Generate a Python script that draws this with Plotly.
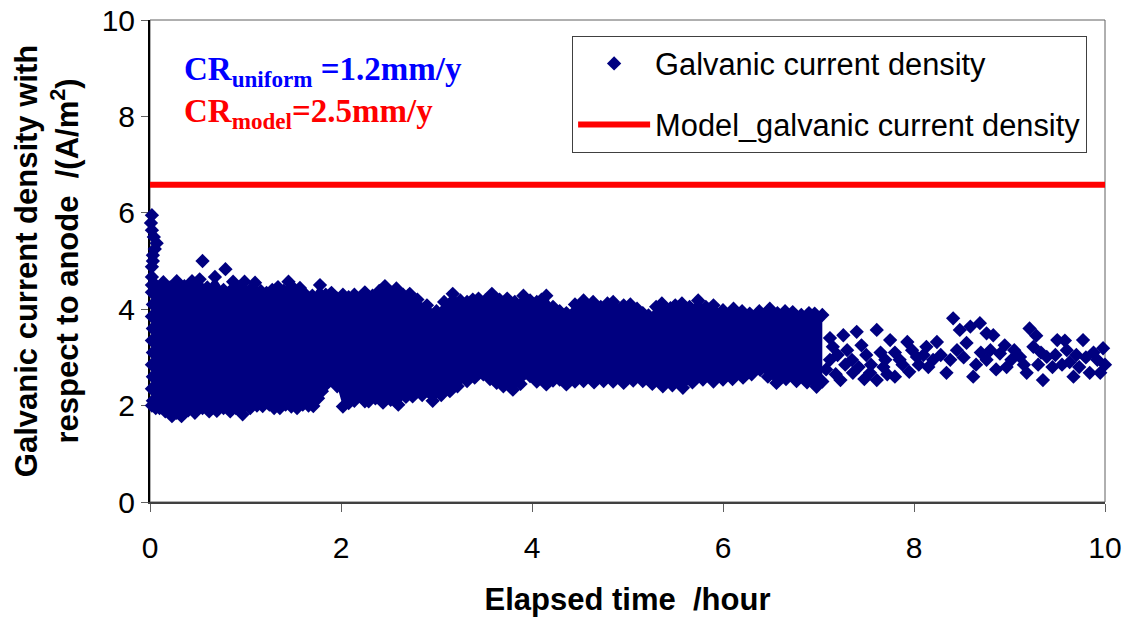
import plotly.graph_objects as go

# ---------------- data ----------------
# model galvanic current density (A/m2)
model_time = [0, 10]
model_current = [6.58, 6.58]

# early spike of measured galvanic current density
spike_time = [0.02, 0.01, 0.02, 0.04, 0.07, 0.03, 0.02, 0.03, 0.02, 0.05]
spike_current = [5.95, 5.79, 5.64, 5.50, 5.37, 5.12, 4.88, 5.00, 4.67, 5.25]

# isolated high readings
outlier_time = [0.55, 0.79]
outlier_current = [5.00, 4.83]

# upper edge of the dense measurement band (0 - 7 h)
top_time = [0.02, 0.06, 0.14, 0.21, 0.28, 0.36, 0.44, 0.52, 0.60, 0.68,
            0.77, 0.87, 0.93, 0.99, 1.05, 1.10, 1.16, 1.22, 1.28, 1.34,
            1.40, 1.45, 1.51, 1.57, 1.63, 1.70, 1.78, 1.84, 1.90, 1.96,
            2.02, 2.08, 2.14, 2.20, 2.25, 2.33, 2.40, 2.46, 2.52, 2.58,
            2.65, 2.72, 2.80, 2.90, 3.00, 3.08, 3.17, 3.25, 3.32, 3.38,
            3.44, 3.51, 3.58, 3.66, 3.74, 3.82, 3.91, 3.98, 4.05, 4.10,
            4.15, 4.22, 4.29, 4.36, 4.45, 4.54, 4.64, 4.72, 4.79, 4.85,
            4.96, 5.03, 5.10, 5.16, 5.22, 5.30, 5.36, 5.45, 5.50, 5.57,
            5.65, 5.74, 5.82, 5.90, 6.00, 6.11, 6.20, 6.28, 6.38, 6.49,
            6.57, 6.65, 6.73, 6.82, 6.90, 6.96, 7.04]
top_current = [4.50, 4.50, 4.56, 4.45, 4.58, 4.48, 4.58, 4.62, 4.45, 4.67,
               4.40, 4.57, 4.45, 4.57, 4.40, 4.55, 4.38, 4.34, 4.40, 4.46,
               4.38, 4.57, 4.42, 4.44, 4.30, 4.28, 4.50, 4.30, 4.34, 4.22,
               4.30, 4.25, 4.30, 4.22, 4.35, 4.28, 4.38, 4.48, 4.35, 4.43,
               4.30, 4.32, 4.20, 4.08, 3.96, 4.15, 4.32, 4.18, 4.15, 4.20,
               4.22, 4.18, 4.32, 4.20, 4.22, 4.15, 4.28, 4.18, 4.15, 4.20,
               4.28, 4.05, 3.96, 3.92, 4.10, 4.18, 4.15, 4.05, 4.12, 4.15,
               4.08, 4.10, 4.01, 3.92, 3.87, 4.05, 4.12, 4.02, 4.08, 4.12,
               4.05, 4.18, 4.05, 4.08, 3.98, 4.01, 3.96, 3.91, 3.96, 4.01,
               3.92, 3.96, 3.94, 3.88, 3.92, 3.91, 3.88]

# lower edge of the dense measurement band (0 - 7 h)
bottom_time = [0.02, 0.06, 0.10, 0.16, 0.23, 0.28, 0.33, 0.40, 0.47, 0.55,
               0.62, 0.70, 0.77, 0.84, 0.90, 0.97, 1.05, 1.12, 1.18, 1.25,
               1.30, 1.36, 1.42, 1.48, 1.54, 1.60, 1.66, 1.71, 1.76, 1.80,
               1.85, 1.90, 1.96, 2.02, 2.08, 2.14, 2.20, 2.25, 2.29, 2.36,
               2.44, 2.52, 2.60, 2.68, 2.75, 2.85, 2.96, 3.05, 3.14, 3.22,
               3.32, 3.40, 3.49, 3.56, 3.63, 3.70, 3.80, 3.88, 3.98, 4.05,
               4.15, 4.22, 4.29, 4.36, 4.45, 4.54, 4.65, 4.75, 4.85, 4.96,
               5.06, 5.16, 5.26, 5.37, 5.47, 5.58, 5.68, 5.79, 5.90, 6.00,
               6.10, 6.21, 6.30, 6.39, 6.47, 6.56, 6.66, 6.77, 6.88, 6.99,
               7.04]
bottom_current = [2.00, 1.95, 1.95, 1.88, 1.78, 1.85, 1.78, 1.90, 1.85, 1.95,
                  1.88, 1.89, 1.95, 1.88, 1.95, 1.82, 1.95, 2.00, 1.99, 2.02,
                  1.95, 1.95, 2.02, 1.98, 1.95, 2.02, 2.00, 1.99, 2.15, 2.30,
                  2.45, 2.54, 2.40, 1.98, 2.05, 2.10, 2.20, 2.09, 2.09, 2.15,
                  2.06, 2.12, 2.02, 2.18, 2.19, 2.22, 2.10, 2.22, 2.30, 2.40,
                  2.51, 2.58, 2.65, 2.55, 2.47, 2.40, 2.33, 2.45, 2.61, 2.50,
                  2.44, 2.52, 2.54, 2.44, 2.50, 2.51, 2.48, 2.51, 2.50, 2.47,
                  2.52, 2.51, 2.45, 2.40, 2.42, 2.37, 2.48, 2.54, 2.50, 2.54,
                  2.55, 2.58, 2.65, 2.74, 2.60, 2.47, 2.55, 2.51, 2.48, 2.44,
                  2.50]

# readings along the left edge at the start of the test
left_time = [0.03, 0.02, 0.03, 0.02, 0.03, 0.02, 0.03, 0.02, 0.03, 0.02]
left_current = [2.10, 2.35, 2.60, 2.85, 3.10, 3.35, 3.60, 3.85, 4.10, 4.35]

# sparse readings after 7 h
tail_time = [7.12, 7.26, 7.40, 7.61, 7.75, 7.93, 7.15, 7.20, 7.30, 7.35,
             7.45, 7.50, 7.55, 7.65, 7.70, 7.80, 7.88, 7.98, 8.05, 8.10,
             6.98, 7.23, 7.36, 7.61, 7.54, 7.68, 7.85, 8.03, 8.13, 8.24,
             8.34, 8.41, 8.48, 8.59, 8.69, 8.76, 8.83, 8.62, 8.76, 8.90,
             8.97, 9.11, 9.21, 9.25, 9.18, 9.35, 9.39, 9.50, 9.60, 9.67,
             9.77, 9.84, 9.92, 9.98, 9.95, 8.20, 8.28, 8.38, 8.45, 8.52,
             8.55, 8.65, 8.70, 8.80, 8.86, 8.95, 9.02, 9.05, 9.15, 9.28,
             9.30, 9.33, 9.45, 9.48, 9.55, 9.58, 9.63, 9.70, 9.73, 9.80,
             9.88, 10.00, 7.08, 7.12, 7.18, 7.28, 7.42, 7.48, 7.72, 7.80,
             7.95, 8.15]
tail_current = [3.40, 3.46, 3.53, 3.57, 3.36, 3.32, 3.22, 3.05, 3.15, 2.95,
                3.25, 3.05, 2.85, 3.10, 2.95, 3.10, 2.85, 3.15, 2.85, 3.05,
                2.39, 2.53, 2.68, 2.53, 2.68, 2.80, 2.95, 3.01, 3.22, 3.32,
                2.68, 3.81, 3.57, 3.64, 3.71, 3.50, 3.46, 2.60, 2.95, 3.08,
                2.80, 3.01, 3.60, 3.22, 2.68, 2.53, 3.01, 3.36, 3.15, 2.60,
                3.36, 2.68, 2.95, 3.19, 2.68, 2.95, 3.05, 2.95, 3.15, 3.00,
                3.30, 2.85, 3.10, 3.15, 2.75, 3.25, 2.95, 3.15, 2.85, 3.45,
                2.85, 3.10, 2.80, 3.05, 2.85, 3.35, 2.90, 3.05, 2.80, 3.00,
                3.10, 2.85, 2.75, 2.95, 2.65, 2.85, 2.80, 2.55, 2.65, 2.60,
                2.70, 2.80]

x_ticks = [0, 2, 4, 6, 8, 10]
y_ticks = [0, 2, 4, 6, 8, 10]

# ---------------- assemble ----------------
NAVY = "#000080"
galvanic_time = spike_time + outlier_time + top_time + bottom_time + left_time + tail_time
galvanic_current = (spike_current + outlier_current + top_current + bottom_current
                    + left_current + tail_current)

band_time = top_time + bottom_time[::-1]
band_current = top_current + bottom_current[::-1]

fig = go.Figure()

# dense overlapping readings form a solid band between the edges
fig.add_trace(go.Scatter(
    x=band_time, y=band_current, mode="lines", fill="toself",
    fillcolor=NAVY, line=dict(color=NAVY, width=0),
    showlegend=False, hoverinfo="skip"))

fig.add_trace(go.Scatter(
    x=galvanic_time, y=galvanic_current, mode="markers",
    name="Galvanic current density",
    marker=dict(symbol="diamond", size=11, color=NAVY, line=dict(width=0)),
    cliponaxis=False, legendgroup="a"))

fig.add_trace(go.Scatter(
    x=model_time, y=model_current, mode="lines",
    name="Model_galvanic current density",
    line=dict(color="#FF0000", width=6), legendgroup="b"))

FONT = "Liberation Sans, Arial, sans-serif"
SERIF = "Liberation Serif, Times New Roman, serif"

fig.update_layout(
    width=1128, height=617,
    margin=dict(l=150, r=23, t=20, b=115, pad=0, autoexpand=False),
    paper_bgcolor="white", plot_bgcolor="white",
    font=dict(family=FONT, color="black"),
    showlegend=True,
    legend=dict(
        x=0.442, y=0.967, xanchor="left", yanchor="top",
        bgcolor="white", bordercolor="#404040", borderwidth=1,
        font=dict(family=FONT, size=30.8, color="black"),
        traceorder="grouped", tracegroupgap=18, itemwidth=72),
    xaxis=dict(
        range=[0, 10], tickmode="array", tickvals=x_ticks,
        ticktext=[str(v) for v in x_ticks],
        ticks="outside", ticklen=8, tickcolor="#606060", tickwidth=1,
        tickfont=dict(family=FONT, size=30), ticklabelstandoff=10,
        showline=True, linecolor="#404040", linewidth=2, automargin=False,
        showgrid=False, zeroline=False, layer="below traces",
        title=dict(text="<b>Elapsed time\u00a0 /hour</b>",
                   font=dict(family=FONT, size=31), standoff=34)),
    yaxis=dict(
        range=[0, 10], tickmode="array", tickvals=y_ticks,
        ticktext=[str(v) for v in y_ticks],
        ticks="outside", ticklen=7, tickcolor="#606060", tickwidth=1,
        tickfont=dict(family=FONT, size=30),
        showline=True, linecolor="black", linewidth=2, automargin=False,
        showgrid=False, zeroline=False, layer="below traces",
        title=dict(text="<b>Galvanic current density with<br>respect to anode\u00a0 /(A/m<sup>2</sup>)</b>",
                   font=dict(family=FONT, size=31), standoff=14)),
    shapes=[dict(type="rect", xref="paper", yref="paper", x0=0, y0=0, x1=1, y1=1,
                 line=dict(color="#606060", width=1), layer="below")],
    annotations=[
        dict(xref="paper", yref="paper", x=0.034, y=0.894, xanchor="left", yanchor="middle",
             showarrow=False,
             text="<b>CR<sub>uniform</sub> =1.2mm/y</b>",
             font=dict(family=SERIF, size=33, color="#0000FF")),
        dict(xref="paper", yref="paper", x=0.034, y=0.807, xanchor="left", yanchor="middle",
             showarrow=False,
             text="<b>CR<sub>model</sub>=2.5mm/y</b>",
             font=dict(family=SERIF, size=33, color="#FF0000")),
    ],
)

fig.write_html("out.html")
